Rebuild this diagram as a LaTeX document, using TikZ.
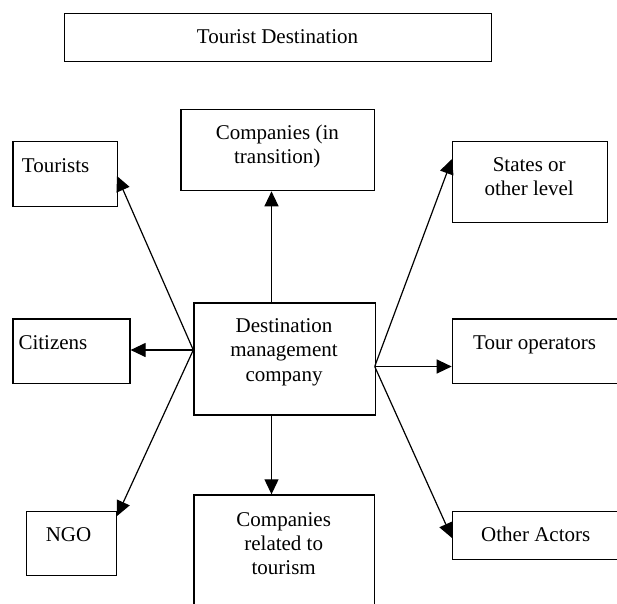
\documentclass[tikz,border=0pt]{standalone}
\usepackage{fontspec}
\setmainfont{Liberation Serif}
\usetikzlibrary{arrows.meta}
\begin{document}
\begin{tikzpicture}[x=1pt,y=-1pt,
  boxnode/.style={draw, line width=1.3pt, inner sep=0pt, anchor=north west},
  txt/.style={inner sep=0pt, font=\fontsize{21}{24.4}\selectfont, align=center},
  arr/.style={line width=1.2pt, -{Triangle[length=15pt,width=14pt]}}]
\useasboundingbox (0,0) rectangle (617,603);
\clip (0,0) rectangle (617,603);
% boxes
\node[boxnode, minimum width=427pt, minimum height=48.3pt] (dest) at (64,12.7) {};
\node[boxnode, minimum width=193.7pt, minimum height=81pt] (trans) at (180.3,109) {};
\node[boxnode, minimum width=104.4pt, minimum height=64.7pt] (tourists) at (12.3,141) {};
\node[boxnode, minimum width=155pt, minimum height=80.7pt] (states) at (451.7,141) {};
\node[boxnode, minimum width=117pt, minimum height=64.4pt] (citizens) at (12.3,318.3) {};
\node[boxnode, minimum width=181.4pt, minimum height=112pt] (dmc) at (193.3,302.3) {};
\node[boxnode, minimum width=190pt, minimum height=64.4pt] (tour) at (451.7,318.3) {};
\node[boxnode, minimum width=90.3pt, minimum height=64.3pt] (ngo) at (25.7,510.7) {};
\node[boxnode, minimum width=180.7pt, minimum height=150pt] (rel) at (193.3,494.3) {};
\node[boxnode, minimum width=190pt, minimum height=48pt] (other) at (451.7,511) {};
% texts (base anchor = baseline of the last line)
\node[txt, anchor=base] (dest-t) at (277.5,43) {Tourist Destination};
\node[txt, anchor=base] (trans-t) at (277.3,163.4) {Companies (in\\transition)};
\node[txt, anchor=base west] (tourists-t) at (21.7,172) {Tourists};
\node[txt, anchor=base] (states-t) at (529.2,195.4) {States or\\other level};
\node[txt, anchor=base west] (citizens-t) at (18.3,349.3) {Citizens};
\node[txt, anchor=base] (dmc-t) at (284,381.1) {Destination\\management\\company};
\node[txt, anchor=base west] (tour-t) at (473,349.3) {Tour operators};
\node[txt, anchor=base] (ngo-t) at (68.5,541.7) {NGO};
\node[txt, anchor=base west] (other-t) at (481,541.7) {Other Actors};
\node[txt, anchor=base] (rel-t) at (283.7,574.8) {Companies\\related to\\tourism};
% connector end points
\coordinate (L) at (193.3,350);
\coordinate (R) at (374.7,366.5);
\coordinate (dmcT) at (271.5,302.3);
\coordinate (dmcB) at (271.5,414.3);
\coordinate (tipTourists) at (117,176);
\coordinate (tipStates) at (452,159);
\coordinate (tipNgo) at (117,516);
\coordinate (tipOther) at (452,538);
% connectors
\draw[arr] (dmcT) -- (dmcT |- trans.south);
\draw[arr] (dmcB) -- (dmcB |- rel.north);
\draw[arr] (L) -- (L -| citizens.east);
\draw[arr] (R) -- (R -| tour.west);
\draw[arr] (L) -- (tipTourists);
\draw[arr] (L) -- (tipNgo);
\draw[arr] (R) -- (tipStates);
\draw[arr] (R) -- (tipOther);
\end{tikzpicture}
\end{document}
